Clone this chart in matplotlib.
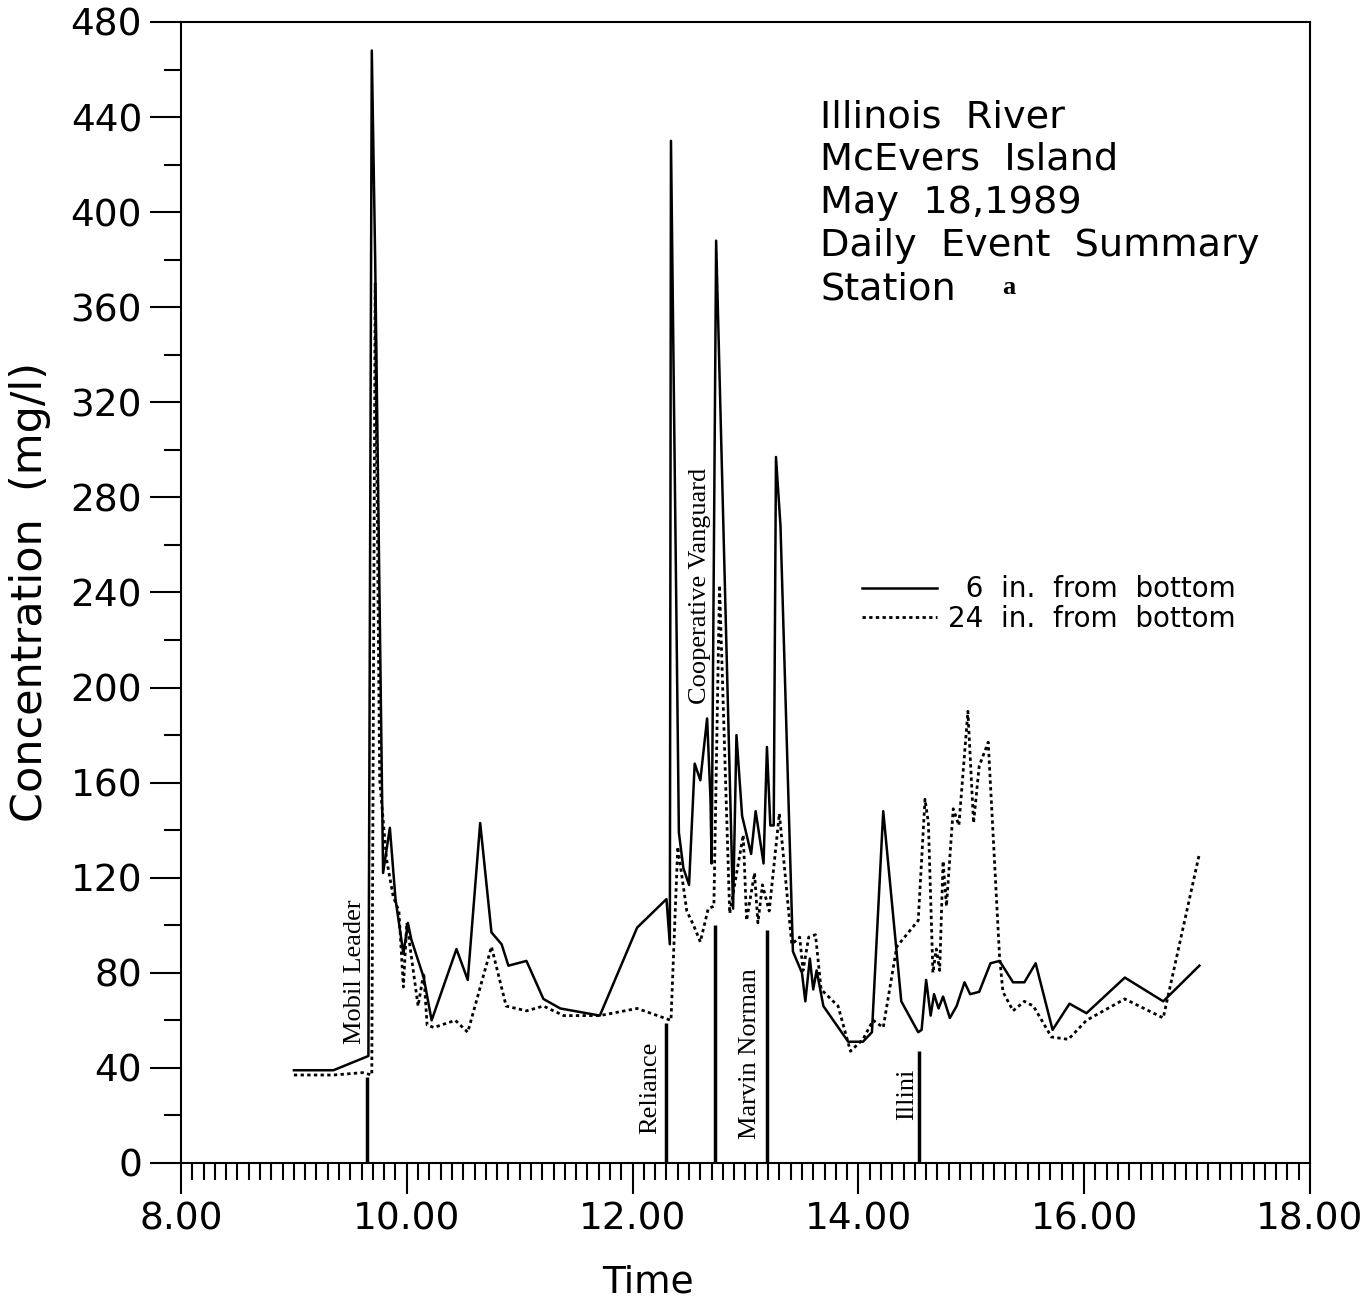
import numpy as np
import matplotlib
matplotlib.use('Agg')
import matplotlib.pyplot as plt
from matplotlib.ticker import MultipleLocator, FormatStrFormatter

# 6 in. from bottom (solid)
t_6in = [9.00, 9.35, 9.66, 9.69, 9.72, 9.79, 9.85, 9.90, 9.97, 10.01, 10.04, 10.15,
         10.22, 10.44, 10.54, 10.65, 10.75, 10.84, 10.90, 11.06, 11.21, 11.36, 11.71,
         12.04, 12.30, 12.33, 12.34, 12.41, 12.45, 12.50, 12.55, 12.60, 12.66, 12.69,
         12.70, 12.74, 12.89, 12.92, 12.97, 13.01, 13.05, 13.09, 13.16, 13.19, 13.22,
         13.25, 13.27, 13.31, 13.42, 13.50, 13.53, 13.57, 13.60, 13.63, 13.69, 13.91,
         14.04, 14.12, 14.22, 14.38, 14.53, 14.56, 14.60, 14.64, 14.67, 14.71, 14.75,
         14.81, 14.87, 14.94, 14.99, 15.07, 15.17, 15.25, 15.37, 15.47, 15.57, 15.72,
         15.87, 16.02, 16.36, 16.70, 17.02]
c_6in = [39, 39, 45, 468, 380, 122, 141, 111, 88, 101, 94, 78,
         60, 90, 77, 143, 97, 92, 83, 85, 69, 65, 62,
         99, 111, 92, 430, 139, 124, 117, 168, 161, 187, 153,
         126, 388, 107, 180, 146, 138, 130, 148, 126, 175, 142,
         142, 297, 268, 89, 80, 68, 86, 73, 81, 66, 51,
         51, 55, 148, 68, 55, 56, 77, 62, 71, 65, 70,
         61, 66, 76, 71, 72, 84, 85, 76, 76, 84, 56,
         67, 63, 78, 68, 83]

# 24 in. from bottom (dotted)
t_24in = [9.00, 9.35, 9.61, 9.69, 9.72, 9.76, 9.82, 9.88, 9.93, 9.97, 10.00, 10.10,
          10.15, 10.18, 10.24, 10.43, 10.54, 10.75, 10.88, 11.06, 11.21, 11.39, 11.71,
          12.04, 12.34, 12.40, 12.48, 12.54, 12.60, 12.67, 12.72, 12.77, 12.86, 12.98,
          13.01, 13.08, 13.11, 13.15, 13.21, 13.30, 13.41, 13.48, 13.51, 13.56, 13.62,
          13.67, 13.82, 13.93, 14.04, 14.13, 14.22, 14.34, 14.53, 14.59, 14.62, 14.66,
          14.69, 14.72, 14.75, 14.78, 14.84, 14.89, 14.97, 15.02, 15.07, 15.15, 15.25,
          15.28, 15.37, 15.47, 15.55, 15.71, 15.86, 16.02, 16.36, 16.70, 17.02]
c_24in = [37, 37, 38, 37, 370, 161, 128, 112, 106, 74, 101, 66,
          80, 58, 57, 60, 55, 91, 66, 64, 66, 62, 62,
          65, 60, 133, 106, 100, 93, 107, 108, 243, 105, 138,
          102, 122, 101, 117, 106, 147, 92, 95, 81, 95, 96,
          73, 66, 47, 52, 60, 57, 91, 102, 153, 143, 80,
          90, 81, 127, 108, 149, 142, 190, 143, 167, 177, 87,
          72, 64, 68, 66, 53, 52, 60, 69, 61, 130]

# vessel passages
ships = ['Mobil Leader', 'Reliance', 'Cooperative Vanguard', 'Marvin Norman', 'Illini']
ship_time = [9.65, 12.30, 12.73, 13.19, 14.54]
ship_mark = [36, 59, 100, 98, 47]
label_x = [9.54, 12.16, 12.60, 13.04, 14.43]
label_y = [50, 12, 193, 10, 18]

fig = plt.figure(figsize=(13.68, 13.01), dpi=100)
ax = fig.add_axes([0.1323, 0.1061, 0.8253, 0.877])

ax.plot(t_6in, c_6in, color='black', lw=1.8, label='  6  in.  from  bottom')
ax.plot(t_24in, c_24in, color='black', lw=2.0, linestyle=(0, (1.2, 1.2)),
        label='24  in.  from  bottom')

for name, t, h, lx, ly in zip(ships, ship_time, ship_mark, label_x, label_y):
    ax.vlines(t, 0, h, color='black', lw=2.5)
    ax.text(lx, ly, name, rotation=90, ha='center', va='bottom',
            family='Liberation Serif', fontsize=19)

ax.set_xlim(8, 18)
ax.set_ylim(0, 480)
ax.xaxis.set_major_locator(MultipleLocator(2))
ax.xaxis.set_minor_locator(MultipleLocator(0.1))
ax.yaxis.set_major_locator(MultipleLocator(40))
ax.yaxis.set_minor_locator(MultipleLocator(20))
ax.xaxis.set_major_formatter(FormatStrFormatter('%.2f'))
ax.tick_params(which='major', direction='out', length=22, width=1.5, labelsize=27, pad=6)
ax.tick_params(which='minor', direction='out', length=12, width=1.5)
ax.tick_params(top=False, right=False)
for s in ax.spines.values():
    s.set_linewidth(1.5)

ax.set_xlabel('Time', fontsize=27)
ax.xaxis.set_label_coords(0.414, -0.089)
ax.set_ylabel('Concentration  (mg/l)', fontsize=31, labelpad=14)

title_lines = ['Illinois  River', 'McEvers  Island', 'May  18,1989',
               'Daily  Event  Summary', 'Station']
for i, line in enumerate(title_lines):
    fig.text(820 / 1368, 1 - (117 + 43 * i) / 1301, line, fontsize=27.5,
             ha='left', va='center')
fig.text(1002 / 1368, 1 - 287 / 1301, 'a', fontsize=19, fontweight='bold',
         family='Liberation Serif', ha='left', va='center')

leg = ax.legend(loc='upper left', bbox_to_anchor=(0.581, 0.537), frameon=False,
                fontsize=20, handlelength=2.7, handletextpad=0.4, labelspacing=0.05)

fig.savefig('out.png', dpi=100)
